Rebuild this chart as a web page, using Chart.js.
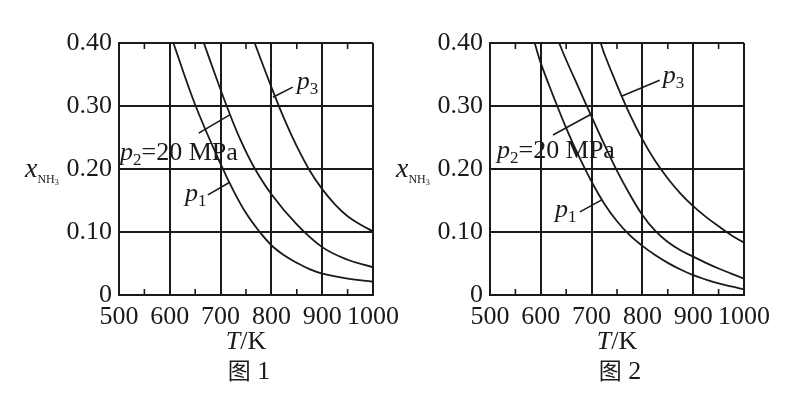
<!DOCTYPE html>
<html>
<head>
<meta charset="utf-8">
<script src="https://cdn.jsdelivr.net/npm/chart.js@4"></script>
<style>
  html, body { margin: 0; padding: 0; background: #fff; }
  #wrap { position: relative; width: 792px; height: 393px; overflow: hidden; }
  canvas { position: absolute; top: 0; }
  #fig1 { left: 0; }
  #fig2 { left: 392px; }
</style>
</head>
<body>
<div id="wrap">
  <canvas id="fig1" width="410" height="393"></canvas>
  <canvas id="fig2" width="400" height="393"></canvas>
</div>
<script>
// --- Data ---
const xTicks = [500, 600, 700, 800, 900, 1000];
const yTickLabels = ['0', '0.10', '0.20', '0.30', '0.40'];
const minorTicks = [550, 650, 750, 850, 950];

// 图 1
const fig1P1T = [607, 650, 700, 725, 750, 775, 800, 825, 850, 875, 900, 950, 1000];
const fig1P1X = [0.40, 0.302, 0.208, 0.166, 0.130, 0.102, 0.079, 0.063, 0.051, 0.041, 0.034, 0.026, 0.021];
const fig1P2T = [667, 690, 712, 737, 765, 800, 850, 900, 950, 1000];
const fig1P2X = [0.40, 0.348, 0.300, 0.250, 0.204, 0.160, 0.112, 0.076, 0.056, 0.044];
const fig1P3T = [767, 800, 825, 850, 875, 900, 925, 950, 975, 1000];
const fig1P3X = [0.40, 0.330, 0.280, 0.236, 0.198, 0.168, 0.144, 0.125, 0.112, 0.101];

// 图 2
const fig2P1T = [588, 600, 625, 650, 675, 700, 725, 750, 775, 800, 825, 850, 875, 900, 925, 950, 975, 1000];
const fig2P1X = [0.40, 0.368, 0.315, 0.265, 0.220, 0.180, 0.145, 0.117, 0.095, 0.078, 0.0635, 0.051, 0.0405, 0.0315, 0.0245, 0.0185, 0.0135, 0.009];
const fig2P2T = [636, 650, 675, 700, 725, 750, 775, 800, 825, 850, 875, 900, 925, 950, 975, 1000];
const fig2P2X = [0.40, 0.373, 0.328, 0.283, 0.239, 0.197, 0.160, 0.127, 0.102, 0.084, 0.071, 0.061, 0.051, 0.042, 0.034, 0.026];
const fig2P3T = [718, 725, 750, 775, 800, 825, 850, 875, 900, 925, 950, 975, 1000];
const fig2P3X = [0.40, 0.383, 0.333, 0.287, 0.247, 0.213, 0.185, 0.161, 0.141, 0.124, 0.109, 0.095, 0.083];

const INK = '#1a1a1a';
const SERIF = '"Liberation Serif", "Times New Roman", serif';

// --- Helpers ---
function toPoints(ts, xs) {
    return ts.map((t, i) => ({ x: t, y: xs[i] }));
}

function drawRich(ctx, x, y, parts, align) {
    let widths = parts.map(p => {
        ctx.font = (p.italic ? 'italic ' : '') + (p.size || 26) + 'px ' + (p.family || SERIF);
        return ctx.measureText(p.text).width;
    });
    let total = widths.reduce((a, b) => a + b, 0);
    let cx = align === 'center' ? x - total / 2 : x;
    parts.forEach((p, i) => {
        ctx.font = (p.italic ? 'italic ' : '') + (p.size || 26) + 'px ' + (p.family || SERIF);
        ctx.fillText(p.text, cx, y + (p.dy || 0));
        cx += widths[i];
    });
}

function pLabel(n, rest) {
    const parts = [{ text: 'p', italic: true }, { text: n, size: 17, dy: 5 }];
    if (rest) parts.push({ text: rest });
    return parts;
}

// --- Extras: minor ticks, leader lines, labels, titles ---
const figExtras = {
    id: 'figExtras',
    afterDraw(chart) {
        const opts = chart.options.plugins.figExtras;
        const { ctx, chartArea: a } = chart;
        const sx = chart.scales.x, sy = chart.scales.y;
        ctx.save();
        ctx.strokeStyle = INK;
        ctx.fillStyle = INK;
        ctx.lineWidth = 1.6;
        ctx.beginPath();
        minorTicks.forEach(t => {
            const px = sx.getPixelForValue(t);
            ctx.moveTo(px, a.bottom); ctx.lineTo(px, a.bottom - 6);
            ctx.moveTo(px, a.top); ctx.lineTo(px, a.top + 6);
        });
        opts.leaders.forEach(l => {
            ctx.moveTo(sx.getPixelForValue(l[0]), sy.getPixelForValue(l[1]));
            ctx.lineTo(sx.getPixelForValue(l[2]), sy.getPixelForValue(l[3]));
        });
        ctx.stroke();

        ctx.textBaseline = 'alphabetic';
        ctx.textAlign = 'left';
        opts.labels.forEach(lb => {
            drawRich(ctx, sx.getPixelForValue(lb.at[0]), sy.getPixelForValue(lb.at[1]), lb.parts);
        });

        // y title
        drawRich(ctx, a.left - 94, 177, [
            { text: 'x', italic: true, size: 28 },
            { text: 'NH', size: 12, dy: 6 },
            { text: '3', size: 8, dy: 8 }
        ]);
        // x title and caption
        const mid = (a.left + a.right) / 2;
        drawRich(ctx, mid, a.bottom + 54, [{ text: 'T', italic: true }, { text: '/K' }], 'center');
        drawRich(ctx, mid + 3, a.bottom + 84, [
            { text: '图', size: 23, family: '"Noto Sans CJK SC", sans-serif' },
            { text: ' ' + opts.num, size: 26 }
        ], 'center');
        ctx.restore();
    }
};

function makeChart(id, series, yWidth, padRight, extras) {
    const ctx = document.getElementById(id).getContext('2d');
    return new Chart(ctx, {
        type: 'line',
        data: {
            datasets: series.map(s => ({
                data: toPoints(s[0], s[1]),
                borderColor: INK,
                borderWidth: 1.8,
                pointRadius: 0,
                fill: false,
                tension: 0.4
            }))
        },
        options: {
            responsive: false,
            animation: false,
            devicePixelRatio: 1,
            layout: { padding: { left: 0, right: padRight, top: 43, bottom: 0 } },
            plugins: {
                legend: { display: false },
                tooltip: { enabled: false },
                figExtras: extras
            },
            scales: {
                x: {
                    type: 'linear',
                    min: 500,
                    max: 1000,
                    afterBuildTicks: s => { s.ticks = xTicks.map(v => ({ value: v })); },
                    ticks: {
                        color: INK,
                        font: { family: SERIF, size: 26 },
                        padding: 7,
                        maxRotation: 0,
                        autoSkip: false,
                        callback: v => String(v)
                    },
                    grid: { color: INK, lineWidth: 2, drawTicks: false },
                    border: { color: INK, width: 2 },
                    afterFit: s => { s.height = 98; }
                },
                y: {
                    min: 0,
                    max: 0.4,
                    ticks: {
                        stepSize: 0.1,
                        color: INK,
                        font: { family: SERIF, size: 26 },
                        padding: 7,
                        autoSkip: false,
                        callback: (v, i) => yTickLabels[i]
                    },
                    grid: { color: INK, lineWidth: 2, drawTicks: false },
                    border: { color: INK, width: 2 },
                    afterFit: s => { s.width = yWidth; }
                }
            }
        },
        plugins: [figExtras]
    });
}

document.addEventListener('DOMContentLoaded', function() {
    makeChart('fig1', [[fig1P1T, fig1P1X], [fig1P2T, fig1P2X], [fig1P3T, fig1P3X]], 119, 37, {
        num: '1',
        leaders: [[803, 0.314, 842, 0.330], [657, 0.257, 718, 0.286], [675, 0.159, 718, 0.179]],
        labels: [
            { at: [850, 0.327], parts: pLabel('3') },
            { at: [502, 0.214], parts: pLabel('2', '=20 MPa') },
            { at: [630, 0.149], parts: pLabel('1') }
        ]
    });
    makeChart('fig2', [[fig2P1T, fig2P1X], [fig2P2T, fig2P2X], [fig2P3T, fig2P3X]], 98, 48, {
        num: '2',
        leaders: [[760, 0.316, 834, 0.341], [624, 0.254, 697, 0.286], [677, 0.132, 720, 0.151]],
        labels: [
            { at: [840, 0.3365], parts: pLabel('3') },
            { at: [514, 0.2175], parts: pLabel('2', '=20 MPa') },
            { at: [628, 0.124], parts: pLabel('1') }
        ]
    });
});
</script>
</body>
</html>
